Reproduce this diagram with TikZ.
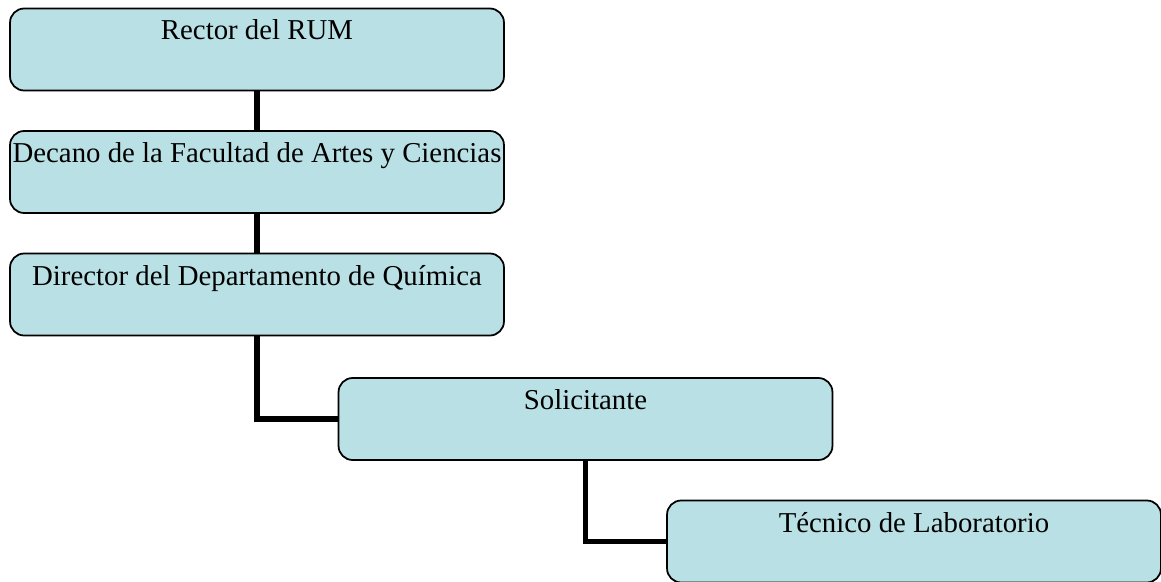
\documentclass[tikz,border=0pt]{standalone}
\usepackage{fontspec}
\setmainfont{Liberation Serif}
\definecolor{cajaazul}{RGB}{185,224,228}
\tikzset{
  caja/.style={draw=black, line width=1pt, fill=cajaazul, rounded corners=8pt,
    minimum width=9.88cm, minimum height=1.64cm, inner sep=0pt},
  titulo/.style={anchor=north, inner sep=0pt, yshift=-0.24cm, font=\fontsize{16.4}{19}\selectfont},
  linea/.style={line width=3.3pt}
}
\begin{document}
\begin{tikzpicture}[x=0.02cm,y=-0.02cm]
        \useasboundingbox (0,0) rectangle (1161,582);
        \node[caja] (rector) at (257,49.5) {};
        \node[titulo] (trector) at (rector.north) {Rector del RUM};
        \node[caja] (decano) at (257,172) {};
        \node[titulo] (tdecano) at (decano.north) {Decano de la Facultad de Artes y Ciencias};
        \node[caja] (director) at (257,294.5) {};
        \node[titulo] (tdirector) at (director.north) {Director del Departamento de Química};
        \node[caja] (solic) at (585.5,419) {};
        \node[titulo] (tsolic) at (solic.north) {Solicitante};
        \node[caja] (tecnico) at (914,541.5) {};
        \node[titulo] (ttecnico) at (tecnico.north) {Técnico de Laboratorio};
        \draw[linea] (rector.south) -- (decano.north);
        \draw[linea] (decano.south) -- (director.north);
        \draw[linea] (director.south) |- (solic.west);
        \draw[linea] (solic.south) |- (tecnico.west);
        \end{tikzpicture}
\end{document}
